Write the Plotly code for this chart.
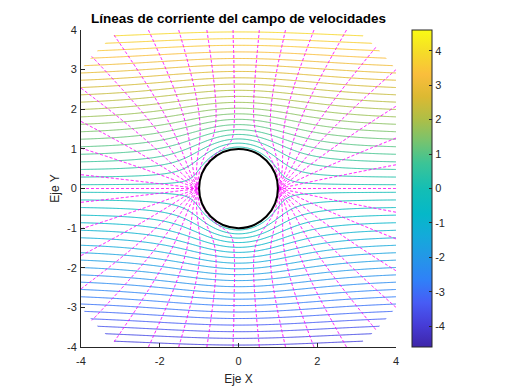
import numpy as np
import plotly.graph_objects as go

# ---- model parameters (flow past a cylinder) ----
U_INF = 1.0          # free-stream speed
A_RAD = 1.0          # cylinder radius
R_OUT = 5.0          # outer radius of the computed region

# ---- stream-function contour levels / colour limits ----
PSI_MIN, PSI_MAX = -4.6, 4.6
N_PSI_LEVELS = 50

# ---- magenta dashed family: far-field angles (deg) of each line, upper half ----
MAG_ANGLES_UP = [0.0, 9.6, 19.6, 29.8, 39.1, 47.9, 57.8, 66.6, 75.1, 83.3,
                 91.7, 100.1, 108.8, 117.5, 127.0, 135.9, 145.3, 154.8, 164.0, 174.4, 180.0]

# ---- ticks ----
X_TICKS = [-4, -2, 0, 2, 4]
Y_TICKS = [-4, -3, -2, -1, 0, 1, 2, 3, 4]
CB_TICKS = [-4, -3, -2, -1, 0, 1, 2, 3, 4]

TITLE = "Líneas de corriente del campo de velocidades"
XLABEL = "Eje X"
YLABEL = "Eje Y"

# parula-like colour scale
PARULA = [
    [0.00, "rgb(62,38,168)"], [0.07, "rgb(70,60,215)"], [0.14, "rgb(71,92,245)"],
    [0.21, "rgb(48,128,248)"], [0.28, "rgb(36,150,232)"], [0.35, "rgb(20,170,218)"],
    [0.42, "rgb(5,184,200)"], [0.50, "rgb(20,190,180)"], [0.58, "rgb(60,196,150)"],
    [0.65, "rgb(120,195,110)"], [0.72, "rgb(175,190,70)"], [0.79, "rgb(220,185,50)"],
    [0.86, "rgb(250,190,60)"], [0.93, "rgb(245,220,40)"], [1.00, "rgb(249,251,20)"],
]

AX_COLOR = "#262626"
FONT = "Liberation Sans, Arial, Helvetica, sans-serif"


def to_list(a):
    out = np.round(a, 5).astype(object)
    out[np.isnan(a)] = None
    return out.tolist()


# ---- grids ----
ys = np.linspace(-4, 4, 400)           # excludes y = 0 exactly
xs = np.linspace(-4, 4, 401)
X, Y = np.meshgrid(xs, ys)
R2 = X**2 + Y**2
outside = (R2 < A_RAD**2) | (R2 > R_OUT**2)
psi = U_INF * Y * (1 - A_RAD**2 / np.where(R2 == 0, 1, R2))
psi[outside] = np.nan

psi_step = (PSI_MAX - PSI_MIN) / (N_PSI_LEVELS + 1)


def mag_field(xh):
    Xh, Yh = np.meshgrid(xh, ys)
    Z = Xh + 1j * Yh
    r2 = np.abs(Z)**2
    W = Z - A_RAD**2 / np.where(r2 == 0, 1, Z)
    ang = np.degrees(np.angle(W))
    mask = (r2 < A_RAD**2) | (r2 > R_OUT**2)
    return ang, mask


# right half: angles in [-90, 90]
lev_pos = [a for a in MAG_ANGLES_UP if 0 < a < 90]
lev_R = [-a for a in lev_pos[::-1]] + [0.0] + lev_pos
xr = np.linspace(0, 4, 201)
angR, maskR = mag_field(xr)
idxR = np.interp(angR, [-90] + lev_R + [90], [-0.5] + list(range(len(lev_R))) + [len(lev_R) - 0.5])
idxR[maskR] = np.nan

# left half: angles mapped into [90, 270]
lev_up_L = [a for a in MAG_ANGLES_UP if 90 < a < 180]
lev_L = lev_up_L + ([180.0] if 180.0 in MAG_ANGLES_UP else []) + [360 - a for a in lev_up_L[::-1]]
xl = np.linspace(-4, 0, 201)
angL, maskL = mag_field(xl)
angL = np.mod(angL, 360)
idxL = np.interp(angL, [90] + lev_L + [270], [-0.5] + list(range(len(lev_L))) + [len(lev_L) - 0.5])
idxL[maskL] = np.nan

fig = go.Figure()

fig.add_trace(go.Contour(
    x=xs, y=ys, z=to_list(psi),
    zauto=False, zmin=PSI_MIN, zmax=PSI_MAX,
    colorscale=PARULA, showscale=False,
    contours=dict(coloring="lines", start=PSI_MIN + psi_step,
                  end=PSI_MAX - psi_step * 0.5, size=psi_step),
    line=dict(width=1), connectgaps=False, hoverinfo="skip",
))

for xh, zz, nlev in [(xr, idxR, len(lev_R)), (xl, idxL, len(lev_L))]:
    fig.add_trace(go.Contour(
        x=xh, y=ys, z=to_list(zz),
        showscale=False,
        colorscale=[[0, "#FF00FF"], [1, "#FF00FF"]],
        contours=dict(coloring="none", start=0, end=nlev - 1, size=1),
        line=dict(width=1, color="#FF00FF", dash="3px,2px"),
        connectgaps=False, hoverinfo="skip",
    ))

# colour bar carrier
fig.add_trace(go.Scatter(
    x=[None], y=[None], mode="markers", hoverinfo="skip", showlegend=False,
    marker=dict(color=[0], colorscale=PARULA, cmin=PSI_MIN, cmax=PSI_MAX, showscale=True,
                colorbar=dict(x=1.05, xanchor="left", y=0.5, yanchor="middle",
                              len=1, lenmode="fraction", thickness=20, xpad=0, ypad=0,
                              outlinewidth=1, outlinecolor=AX_COLOR,
                              ticks="inside", ticklen=3, tickcolor=AX_COLOR,
                              tickvals=CB_TICKS, ticktext=[str(t) for t in CB_TICKS],
                              tickfont=dict(size=11, color=AX_COLOR, family=FONT))),
))

fig.add_shape(type="circle", xref="x", yref="y", x0=-A_RAD, x1=A_RAD, y0=-A_RAD, y1=A_RAD,
              fillcolor="white", line=dict(color="black", width=2), layer="above")

fig.update_layout(
    width=520, height=390,
    margin=dict(l=81, r=124, t=30, b=43, autoexpand=False),
    paper_bgcolor="white", plot_bgcolor="white",
    showlegend=False, hovermode=False,
    font=dict(family=FONT, color=AX_COLOR),
    title=dict(text="<b>" + TITLE + "</b>", x=0.5, xref="paper", xanchor="center",
               y=1 - 18.5 / 390, yref="container", yanchor="middle",
               font=dict(size=13.5, color="black", family=FONT)),
    xaxis=dict(range=[-4, 4], showgrid=False, zeroline=False, showline=True, automargin=False,
               linecolor=AX_COLOR, linewidth=1, ticks="inside", ticklen=4, tickcolor=AX_COLOR,
               tickvals=X_TICKS, ticktext=[str(t) for t in X_TICKS], ticklabelstandoff=4,
               tickfont=dict(size=11, color=AX_COLOR, family=FONT),
               title=dict(text=XLABEL, font=dict(size=12, color=AX_COLOR, family=FONT), standoff=8)),
    yaxis=dict(range=[-4, 4], showgrid=False, zeroline=False, showline=True, automargin=False,
               linecolor=AX_COLOR, linewidth=1, ticks="inside", ticklen=4, tickcolor=AX_COLOR,
               tickvals=Y_TICKS, ticktext=[str(t) for t in Y_TICKS], ticklabelstandoff=1,
               tickfont=dict(size=11, color=AX_COLOR, family=FONT),
               title=dict(text=YLABEL, font=dict(size=12, color=AX_COLOR, family=FONT), standoff=4)),
)

fig.write_html("out.html", config={"staticPlot": True, "displayModeBar": False},
               post_script="document.body.style.margin='0px';")
